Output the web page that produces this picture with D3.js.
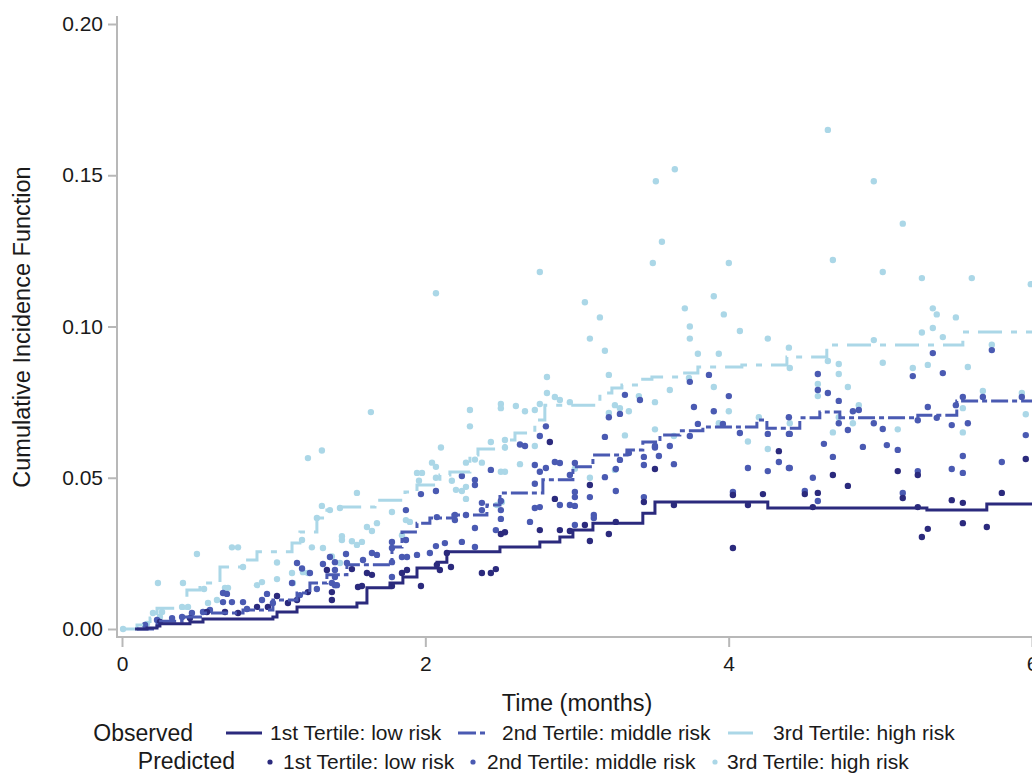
<!DOCTYPE html>
<html>
<head>
<meta charset="utf-8">
<script src="https://cdn.jsdelivr.net/npm/d3@7"></script>
<style>
  body { margin: 0; background: #fff; }
  svg { display: block; font-family: "Liberation Sans", Arial, sans-serif; }
</style>
</head>
<body>
<svg id="chart" width="1032" height="773"></svg>
<script>
// observed cumulative incidence (step functions), [month, CIF]
var obsLow = [[0.086,0],[0.165,0.0003],[0.231,0.001],[0.25,0.0017],[0.448,0.0023],[0.534,0.0033],
  [0.995,0.004],[1.022,0.0056],[1.154,0.0073],[1.549,0.0086],[1.615,0.0136],[1.767,0.0152],
  [1.852,0.0172],[1.945,0.0202],[2.077,0.0221],[2.142,0.0255],[2.492,0.0271],[2.755,0.0288],
  [2.887,0.0304],[2.973,0.0327],[3.105,0.035],[3.434,0.0383],[3.514,0.042],[4.258,0.040],
  [5.307,0.0393],[5.702,0.0413],[6.2,0.0413]];
var obsMid = [[0.099,0],[0.231,0.0026],[0.396,0.004],[0.534,0.0053],[0.798,0.0063],[0.995,0.0096],
  [1.154,0.0119],[1.239,0.0152],[1.351,0.0179],[1.483,0.0212],[1.780,0.0271],[1.846,0.0321],
  [1.945,0.035],[2.030,0.0367],[2.182,0.0377],[2.406,0.041],[2.492,0.045],[2.775,0.0493],
  [2.973,0.0536],[3.105,0.0575],[3.329,0.0592],[3.434,0.0618],[3.547,0.0641],[3.678,0.0655],
  [3.830,0.0668],[4.186,0.0691],[4.252,0.0664],[4.469,0.0698],[4.601,0.0717],[4.733,0.0698],
  [5.247,0.0707],[5.504,0.0754],[6.2,0.0754]];
var obsHigh = [[0.007,0],[0.099,0.0013],[0.185,0.0036],[0.231,0.0069],[0.428,0.0129],[0.514,0.0152],
  [0.646,0.0205],[0.791,0.0228],[0.890,0.0255],[1.121,0.0284],[1.173,0.0321],[1.285,0.0367],
  [1.351,0.0393],[1.437,0.0403],[1.668,0.0426],[1.866,0.0453],[1.945,0.0476],[2.096,0.0509],
  [2.162,0.0519],[2.294,0.0575],[2.347,0.0595],[2.525,0.0625],[2.591,0.0648],[2.722,0.0691],
  [2.788,0.074],[3.151,0.078],[3.230,0.0797],[3.296,0.0807],[3.415,0.0826],[3.494,0.0833],
  [3.698,0.0846],[3.797,0.0866],[4.087,0.0873],[4.384,0.0899],[4.647,0.0939],[5.544,0.0982],
  [6.2,0.0982]];

// predicted individual values, [month, CIF]
var predLow = [[0.25,0.0023],[0.448,0.0036],[0.560,0.0056],[0.679,0.0056],[0.765,0.0053],[0.890,0.0073],
  [0.962,0.0073],[1.022,0.0109],[1.094,0.0086],[1.154,0.0096],[1.226,0.0122],[1.351,0.0195],
  [1.384,0.0122],[1.384,0.0096],[1.516,0.0198],[1.556,0.0139],[1.582,0.0142],[1.615,0.0185],
  [1.648,0.0179],[1.780,0.0142],[1.846,0.0185],[1.879,0.0195],[1.971,0.0142],[2.076,0.0212],
  [2.096,0.0195],[2.142,0.0251],[2.169,0.0205],[2.373,0.0185],[2.432,0.0185],[2.465,0.0198],
  [2.498,0.0314],[2.525,0.032],[2.755,0.0327],[2.821,0.0618],[2.854,0.043],[2.887,0.0327],
  [2.953,0.0324],[3.052,0.0344],[3.085,0.0291],[3.085,0.0476],[3.210,0.0314],[3.256,0.0354],
  [3.441,0.042],[3.514,0.0529],[3.639,0.041],[4.028,0.0443],[4.028,0.0268],[4.127,0.041],
  [4.226,0.0446],[4.331,0.0588],[4.502,0.0446],[4.555,0.0403],[4.588,0.045],[4.687,0.0509],
  [4.786,0.0473],[5.115,0.0522],[5.148,0.0433],[5.247,0.0509],[5.247,0.0403],[5.274,0.0304],
  [5.313,0.0331],[5.471,0.0426],[5.544,0.0417],[5.544,0.035],[5.702,0.0337],[5.801,0.045],
  [5.959,0.0562]];
var predMid = [[0.152,0.0013],[0.231,0.003],[0.33,0.0036],[0.396,0.004],[0.461,0.0053],[0.534,0.0056],
  [0.580,0.0063],[0.666,0.0119],[0.692,0.0116],[0.666,0.0089],[0.725,0.0089],[0.798,0.0089],
  [0.824,0.0066],[0.956,0.0116],[0.923,0.0096],[0.995,0.0086],[1.121,0.0152],[1.154,0.0218],
  [1.173,0.0112],[1.187,0.020],[1.239,0.0185],[1.285,0.0132],[1.325,0.0215],[1.371,0.0238],
  [1.384,0.0152],[1.417,0.0145],[1.404,0.0221],[1.404,0.0195],[1.404,0.0172],[1.404,0.0145],
  [1.477,0.0248],[1.483,0.0218],[1.589,0.0228],[1.648,0.0251],[1.681,0.0245],[1.780,0.0288],
  [1.780,0.0268],[1.780,0.0221],[1.780,0.0172],[1.846,0.0238],[1.879,0.0238],[1.872,0.0294],
  [1.872,0.0393],[1.945,0.0245],[1.971,0.0446],[2.030,0.0251],[2.070,0.0274],[2.070,0.0456],
  [2.076,0.037],[2.129,0.0284],[2.195,0.0377],[2.195,0.036],[2.241,0.0506],[2.241,0.0288],
  [2.268,0.0377],[2.327,0.0493],[2.327,0.0476],[2.327,0.0334],[2.327,0.0271],[2.373,0.0417],
  [2.373,0.0393],[2.432,0.0526],[2.465,0.0327],[2.498,0.0423],[2.498,0.0393],[2.498,0.0364],
  [2.624,0.061],[2.657,0.0605],[2.690,0.0354],[2.722,0.048],[2.722,0.0542],[2.722,0.040],
  [2.755,0.052],[2.755,0.0403],[2.755,0.0638],[2.795,0.0532],[2.795,0.067],[2.854,0.0552],
  [2.887,0.0549],[2.887,0.041],[2.953,0.0509],[2.953,0.041],[2.986,0.0549],[2.986,0.0453],
  [2.986,0.0436],[2.986,0.0407],[2.986,0.0344],[3.085,0.0436],[3.111,0.0377],[3.111,0.0367],
  [3.184,0.0635],[3.184,0.0502],[3.210,0.070],[3.256,0.0529],[3.256,0.0456],[3.283,0.0711],
  [3.283,0.0559],[3.316,0.0774],[3.342,0.0582],[3.415,0.0757],[3.441,0.0569],[3.441,0.0542],
  [3.441,0.0436],[3.514,0.0605],[3.514,0.060],[3.540,0.0572],[3.612,0.0605],[3.639,0.0545],
  [3.744,0.0817],[3.744,0.0638],[3.771,0.0734],[3.797,0.0678],[3.870,0.084],[3.902,0.072],
  [3.962,0.0678],[4.001,0.077],[4.028,0.0453],[4.074,0.0648],[4.127,0.0532],[4.258,0.0645],
  [4.258,0.0522],[4.331,0.0552],[4.397,0.0645],[4.397,0.070],[4.397,0.0532],[4.403,0.0645],
  [4.403,0.0532],[4.502,0.0456],[4.555,0.050],[4.588,0.0843],[4.588,0.079],[4.588,0.0423],
  [4.628,0.0612],[4.654,0.078],[4.687,0.0569],[4.726,0.0754],[4.726,0.068],[4.786,0.0658],
  [4.819,0.072],[4.858,0.0724],[4.885,0.0602],[4.957,0.068],[5.016,0.0661],[5.043,0.0608],
  [5.115,0.0592],[5.148,0.045],[5.214,0.0836],[5.247,0.069],[5.247,0.0522],[5.313,0.0734],
  [5.346,0.0912],[5.372,0.0698],[5.412,0.0846],[5.471,0.0674],[5.471,0.0529],[5.498,0.074],
  [5.544,0.0767],[5.544,0.0572],[5.544,0.0516],[5.577,0.068],[5.676,0.0767],[5.735,0.0922],
  [5.801,0.0552],[5.933,0.0767],[5.959,0.0641]];
var predHigh = [[0.007,0],[0.165,0.0017],[0.204,0.0053],[0.264,0.0056],[0.25,0.004],[0.237,0.0152],
  [0.396,0.0073],[0.402,0.0152],[0.435,0.0073],[0.494,0.0248],[0.541,0.0132],[0.567,0.0086],
  [0.626,0.0096],[0.679,0.0136],[0.699,0.0136],[0.725,0.027],[0.765,0.027],[0.798,0.0205],
  [0.890,0.0145],[0.923,0.0155],[1.022,0.022],[1.022,0.0165],[1.121,0.0185],[1.127,0.0152],
  [1.187,0.0294],[1.193,0.0188],[1.226,0.0565],[1.226,0.0185],[1.252,0.027],[1.285,0.0367],
  [1.318,0.059],[1.318,0.0407],[1.325,0.0268],[1.371,0.0393],[1.384,0.024],[1.437,0.040],
  [1.437,0.0218],[1.450,0.0307],[1.450,0.0294],[1.516,0.029],[1.549,0.045],[1.549,0.0278],
  [1.582,0.0288],[1.615,0.0337],[1.641,0.0717],[1.648,0.0324],[1.681,0.035],[1.780,0.0387],
  [1.846,0.031],[1.872,0.036],[1.898,0.0354],[1.945,0.0516],[1.958,0.049],[1.978,0.0516],
  [2.044,0.055],[2.070,0.0536],[2.070,0.050],[2.07,0.111],[2.103,0.060],[2.175,0.049],
  [2.202,0.046],[2.241,0.0456],[2.268,0.055],[2.268,0.047],[2.268,0.043],[2.294,0.0724],
  [2.294,0.067],[2.327,0.056],[2.373,0.055],[2.432,0.0618],[2.472,0.041],[2.498,0.0744],
  [2.498,0.073],[2.498,0.052],[2.505,0.042],[2.525,0.0625],[2.525,0.060],[2.525,0.052],
  [2.597,0.0737],[2.624,0.0545],[2.657,0.072],[2.722,0.0724],[2.722,0.0605],[2.755,0.0744],
  [2.755,0.118],[2.802,0.0833],[2.802,0.078],[2.854,0.0767],[2.887,0.0757],[2.953,0.075],
  [2.986,0.053],[3.052,0.108],[3.085,0.096],[3.085,0.050],[3.151,0.103],[3.184,0.092],
  [3.210,0.084],[3.210,0.0714],[3.250,0.074],[3.250,0.0526],[3.283,0.073],[3.316,0.064],
  [3.342,0.072],[3.408,0.077],[3.50,0.121],[3.514,0.075],[3.514,0.066],[3.52,0.148],
  [3.56,0.128],[3.612,0.079],[3.639,0.0638],[3.645,0.152],[3.711,0.106],[3.738,0.083],
  [3.744,0.100],[3.744,0.096],[3.797,0.091],[3.902,0.110],[3.902,0.080],[3.935,0.091],
  [3.935,0.068],[3.968,0.104],[4.001,0.121],[4.001,0.072],[4.074,0.0985],[4.127,0.062],
  [4.199,0.070],[4.258,0.096],[4.258,0.0595],[4.397,0.093],[4.403,0.0863],[4.403,0.068],
  [4.588,0.081],[4.588,0.077],[4.654,0.165],[4.654,0.0886],[4.687,0.122],[4.687,0.065],
  [4.726,0.0876],[4.726,0.0843],[4.726,0.070],[4.786,0.080],[4.819,0.068],[4.858,0.074],
  [4.957,0.148],[4.957,0.0955],[5.016,0.118],[5.016,0.088],[5.115,0.066],[5.148,0.134],
  [5.214,0.0863],[5.274,0.116],[5.274,0.098],[5.313,0.0873],[5.346,0.106],[5.346,0.0995],
  [5.372,0.104],[5.412,0.0965],[5.498,0.103],[5.544,0.073],[5.544,0.065],[5.577,0.0866],
  [5.603,0.116],[5.676,0.0787],[5.735,0.094],[5.933,0.078],[5.959,0.071],[5.992,0.114]];

var xTicks = [0, 2, 4, 6];
var yTicks = [0, 0.05, 0.10, 0.15, 0.20];
var groupLabels = ["1st Tertile: low risk", "2nd Tertile: middle risk", "3rd Tertile: high risk"];
var colors = ["#2b2a7d", "#4a5ab2", "#abd7e7"];
var dashes = [null, "17,4,5,4", "24,9,6,9"];

var svg = d3.select("#chart");
var axisColor = "#b8b8b8";
var textColor = "#1a1a1a";

var x = d3.scaleLinear().domain([0, 6]).range([122, 1032]);
var y = d3.scaleLinear().domain([0, 0.2]).range([629, 24]);

// axes
var yAxis = svg.append("g")
    .attr("transform", "translate(117,0)")
    .call(d3.axisLeft(y).tickValues(yTicks).tickSize(9).tickPadding(5).tickFormat(d3.format(".2f")));
var xAxis = svg.append("g")
    .attr("transform", "translate(0,637)")
    .call(d3.axisBottom(x).tickValues(xTicks).tickSize(10).tickPadding(9).tickFormat(d3.format("d")));
[yAxis, xAxis].forEach(function (g) {
    g.select(".domain").remove();
    g.selectAll(".tick line").attr("stroke", axisColor).attr("stroke-width", 2);
    g.selectAll(".tick text").attr("fill", textColor).style("font-size", "21px")
        .style("font-family", "'Liberation Sans', Arial, sans-serif");
});
svg.append("line").attr("x1", 117).attr("x2", 117).attr("y1", 16).attr("y2", 638)
    .attr("stroke", axisColor).attr("stroke-width", 2);
svg.append("line").attr("x1", 116).attr("x2", 1032).attr("y1", 637).attr("y2", 637)
    .attr("stroke", axisColor).attr("stroke-width", 2);

svg.append("text")
    .attr("transform", "translate(30,327) rotate(-90)")
    .attr("text-anchor", "middle")
    .style("font-size", "23.5px").attr("fill", textColor)
    .text("Cumulative Incidence Function");
svg.append("text")
    .attr("x", 577).attr("y", 711)
    .attr("text-anchor", "middle")
    .style("font-size", "23.5px").attr("fill", textColor)
    .text("Time (months)");

// predicted points
var preds = [predHigh, predMid, predLow];
var predColors = [colors[2], colors[1], colors[0]];
preds.forEach(function (pts, i) {
    svg.append("g").selectAll("circle")
        .data(pts)
        .enter()
        .append("circle")
        .attr("cx", d => x(d[0]))
        .attr("cy", d => y(d[1]))
        .attr("r", 3.2)
        .attr("fill", predColors[i]);
});

// observed step lines
var line = d3.line().x(d => x(d[0])).y(d => y(d[1])).curve(d3.curveStepAfter);
[[obsHigh, 2], [obsMid, 1], [obsLow, 0]].forEach(function (o) {
    svg.append("path")
        .attr("d", line(o[0]))
        .attr("fill", "none")
        .attr("stroke", colors[o[1]])
        .attr("stroke-width", 3)
        .attr("stroke-dasharray", dashes[o[1]]);
});

// legend
var legend = svg.append("g").style("font-size", "21px").attr("fill", textColor);
legend.append("text").attr("x", 193).attr("y", 741).attr("text-anchor", "end")
    .style("font-size", "23px").text("Observed");
legend.append("text").attr("x", 235).attr("y", 769).attr("text-anchor", "end")
    .style("font-size", "23px").text("Predicted");

var obsSample = [[226, 262, 270], [458, 486, 502], [728, 753, 773]];
obsSample.forEach(function (s, i) {
    legend.append("line").attr("x1", s[0]).attr("x2", s[1]).attr("y1", 733).attr("y2", 733)
        .attr("stroke", colors[i]).attr("stroke-width", 3)
        .attr("stroke-dasharray", i === 1 ? "18,4,5,4" : null);
    legend.append("text").attr("x", s[2]).attr("y", 740).text(groupLabels[i]);
});
var predSample = [[270, 283], [473, 487], [715, 727]];
predSample.forEach(function (s, i) {
    legend.append("circle").attr("cx", s[0]).attr("cy", 762).attr("r", 2.6).attr("fill", colors[i]);
    legend.append("text").attr("x", s[1]).attr("y", 769).text(groupLabels[i]);
});
</script>
</body>
</html>
